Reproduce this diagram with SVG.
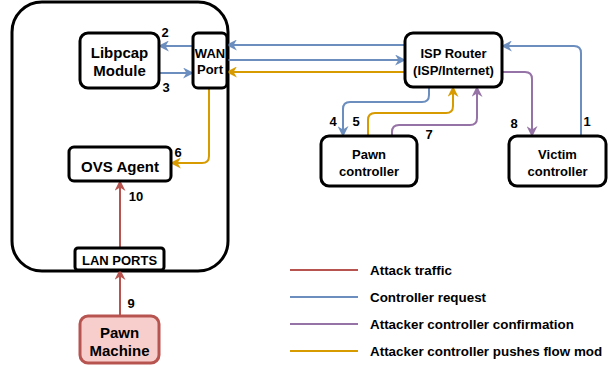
<svg xmlns="http://www.w3.org/2000/svg" width="616" height="368" viewBox="0 0 616 368">
<style>
.n{fill:#fff;stroke:#000;stroke-width:3}
.t{font-family:"Liberation Sans",Arial,sans-serif;font-weight:bold;fill:#000;text-anchor:middle}
.lg{font-family:"Liberation Sans",Arial,sans-serif;font-weight:bold;font-size:13.4px;fill:#000}
.c{fill:none;stroke-width:2}
.b{stroke:#6c8ebf}.o{stroke:#d79b00}.p{stroke:#9673a6}.r{stroke:#b85450}
</style>
<defs>
<marker id="ab" viewBox="0 0 10 10" refX="9" refY="5" markerWidth="11" markerHeight="11" markerUnits="userSpaceOnUse" orient="auto"><path d="M0,0 L10,5 L0,10 L3,5 z" fill="#6c8ebf"/></marker>
<marker id="ao" viewBox="0 0 10 10" refX="9" refY="5" markerWidth="11" markerHeight="11" markerUnits="userSpaceOnUse" orient="auto"><path d="M0,0 L10,5 L0,10 L3,5 z" fill="#d79b00"/></marker>
<marker id="ap" viewBox="0 0 10 10" refX="9" refY="5" markerWidth="11" markerHeight="11" markerUnits="userSpaceOnUse" orient="auto"><path d="M0,0 L10,5 L0,10 L3,5 z" fill="#9673a6"/></marker>
<marker id="ar" viewBox="0 0 10 10" refX="9" refY="5" markerWidth="11" markerHeight="11" markerUnits="userSpaceOnUse" orient="auto"><path d="M0,0 L10,5 L0,10 L3,5 z" fill="#b85450"/></marker>
</defs>
<g id="switch"><rect class="n" x="12" y="2" width="216" height="269" rx="30"/></g>
<g id="connectors">
<path class="c b" d="M405,45 H227" marker-end="url(#ab)"/>
<path class="c b" d="M227,60 H405" marker-end="url(#ab)"/>
<path class="c o" d="M405,72 H227" marker-end="url(#ao)"/>
<path class="c b" d="M193,46 H159" marker-end="url(#ab)"/>
<path class="c b" d="M159,73 H193" marker-end="url(#ab)"/>
<path class="c o" d="M209,88 V156 Q209,163 202,163 H171" marker-end="url(#ao)"/>
<path class="c r" d="M120,248 V181" marker-end="url(#ar)"/>
<path class="c r" d="M120,316 V270" marker-end="url(#ar)"/>
<path class="c b" d="M429,87 V95 Q429,102 422,102 H350 Q343,102 343,109 V136" marker-end="url(#ab)"/>
<path class="c o" d="M368,136 V120 Q368,113 375,113 H446 Q453,113 453,106 V87" marker-end="url(#ao)"/>
<path class="c p" d="M392,136 V132 Q392,125 399,125 H470 Q477,125 477,118 V87" marker-end="url(#ap)"/>
<path class="c p" d="M502,72 H525 Q532,72 532,79 V136" marker-end="url(#ap)"/>
<path class="c b" d="M581,136 V53 Q581,46 574,46 H502" marker-end="url(#ab)"/>
<path class="c r" d="M290,270 H358"/>
<path class="c b" d="M290,297 H358"/>
<path class="c p" d="M290,324 H358"/>
<path class="c o" d="M290,351 H358"/>
</g>
<g id="libpcap"><rect class="n" x="80" y="33" width="79" height="55" rx="8"/><text class="t" font-size="15" x="119.5" y="58">Libpcap</text><text class="t" font-size="15" x="119.5" y="76">Module</text></g>
<g id="wan"><rect class="n" x="193" y="33" width="34" height="55" rx="5"/><text class="t" font-size="13" x="210" y="58">WAN</text><text class="t" font-size="13" x="210" y="74">Port</text></g>
<g id="ovs"><rect class="n" x="69" y="147" width="102" height="34" rx="5"/><text class="t" font-size="15" x="120" y="171.5">OVS Agent</text></g>
<g id="lan"><rect class="n" x="75" y="248" width="89" height="22" rx="3"/><text class="t" font-size="13" x="119.5" y="264.5">LAN PORTS</text></g>
<g id="pawnmachine"><rect x="80" y="316" width="79" height="47" rx="8" fill="#f8cecc" stroke="#b85450" stroke-width="3"/><text class="t" font-size="15" x="119.5" y="338">Pawn</text><text class="t" font-size="15" x="119.5" y="356">Machine</text></g>
<g id="isp"><rect class="n" x="405" y="33" width="97" height="54" rx="8"/><text class="t" font-size="13" x="453.5" y="58">ISP Router</text><text class="t" font-size="13" x="453.5" y="75">(ISP/Internet)</text></g>
<g id="pawnctl"><rect class="n" x="321" y="136" width="96" height="50" rx="8"/><text class="t" font-size="13" x="369" y="159">Pawn</text><text class="t" font-size="13" x="369" y="176">controller</text></g>
<g id="victimctl"><rect class="n" x="509" y="136" width="97" height="50" rx="8"/><text class="t" font-size="13" x="557.5" y="159">Victim</text><text class="t" font-size="13" x="557.5" y="176">controller</text></g>
<g id="labels">
<text class="t" font-size="13" x="165" y="37">2</text>
<text class="t" font-size="13" x="166" y="92">3</text>
<text class="t" font-size="13" x="178" y="157">6</text>
<text class="t" font-size="13" x="136" y="201">10</text>
<text class="t" font-size="13" x="131" y="308">9</text>
<text class="t" font-size="13" x="333" y="126">4</text>
<text class="t" font-size="13" x="356" y="126">5</text>
<text class="t" font-size="13" x="429" y="139">7</text>
<text class="t" font-size="13" x="514" y="128">8</text>
<text class="t" font-size="13" x="587" y="126">1</text>
</g>
<g id="legend">
<text class="lg" x="370" y="274.5">Attack traffic</text>
<text class="lg" x="370" y="301.5">Controller request</text>
<text class="lg" x="370" y="328.5">Attacker controller confirmation</text>
<text class="lg" x="370" y="355.5">Attacker controller pushes flow mod</text>
</g>
</svg>
